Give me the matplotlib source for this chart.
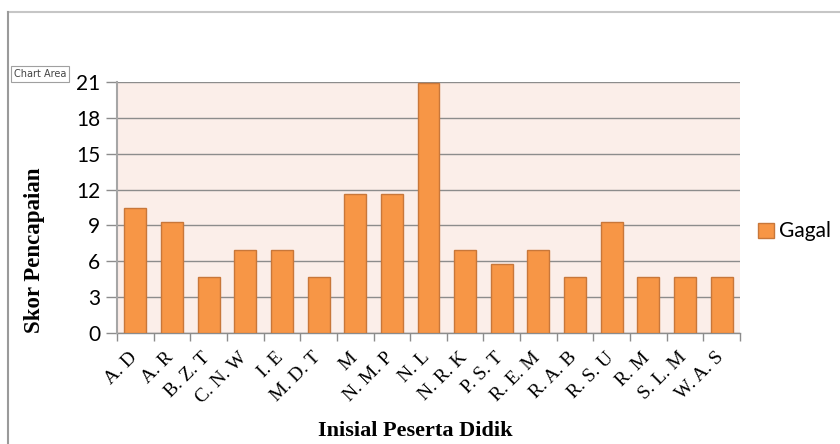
import matplotlib
matplotlib.use("Agg")
import matplotlib.pyplot as plt
import matplotlib.transforms as mtransforms
from matplotlib.patches import Rectangle
from matplotlib.lines import Line2D

# Skor pencapaian per peserta didik (kategori "Gagal")
students = ["A. D", "A. R", "B. Z. T", "C. N. W", "I. E", "M. D. T", "M",
            "N. M. P", "N. L", "N. R. K", "P. S. T", "R. E. M", "R. A. B",
            "R. S. U", "R. M", "S. L. M", "W. A. S"]
scores = [10.47, 9.30, 4.65, 6.98, 6.98, 4.65, 11.63, 11.63, 20.93, 6.98,
          5.81, 6.98, 4.65, 9.30, 4.65, 4.65, 4.65]
y_ticks = [0, 3, 6, 9, 12, 15, 18, 21]
series_name = "Gagal"

BAR = "#F79646"
BAR_EDGE = "#C8773A"
PLOT_BG = "#FBEEE9"
GRID = "#8C8C8C"

W, H = 840, 444
fig = plt.figure(figsize=(W / 100, H / 100), dpi=100)
fig.patch.set_facecolor("white")

# axes box in pixel coordinates
left, right, top, bottom = 117, 740, 82, 333
ax = fig.add_axes([left / W, 1 - bottom / H, (right - left) / W, (bottom - top) / H])
ax.set_facecolor(PLOT_BG)

x = list(range(len(students)))
ax.bar(x, scores, width=0.6, color=BAR, edgecolor=BAR_EDGE, linewidth=1.0, zorder=3)

ax.set_xlim(-0.5, len(students) - 0.5)
ax.set_ylim(0, 21)
ax.set_yticks(y_ticks)
ax.set_yticklabels([str(v) for v in y_ticks], fontfamily="Lato", fontsize=15)
ax.yaxis.grid(True, color=GRID, linewidth=1.0, zorder=1)
ax.tick_params(axis="y", length=8, width=1, color=GRID, pad=4)

# category boundary ticks on the x axis, labels at the centers
ax.set_xticks([i - 0.5 for i in range(len(students) + 1)])
ax.set_xticklabels([])
ax.set_xticks(x, minor=True)
ax.set_xticklabels(students, minor=True, rotation=45, ha="right", va="center",
                   rotation_mode="anchor", fontfamily="Liberation Serif",
                   fontsize=14)
ax.tick_params(axis="x", which="major", length=6, width=1, color=GRID)
ax.tick_params(axis="x", which="minor", length=0, pad=0)
shift = mtransforms.ScaledTranslation(-1 / 100, -22 / 100, fig.dpi_scale_trans)
for lab in ax.get_xticklabels(minor=True):
    lab.set_transform(lab.get_transform() + shift)

for side in ("top", "right"):
    ax.spines[side].set_visible(False)
ax.spines["left"].set_color("#A6A6A6")
ax.spines["left"].set_linewidth(1.5)
ax.spines["bottom"].set_color(GRID)
ax.spines["bottom"].set_linewidth(1.0)
ax.spines["left"].set_zorder(4)

# axis titles
fig.text(35 / W, 1 - 250 / H, "Skor Pencapaian", rotation=90, ha="center", va="center",
         fontfamily="Liberation Serif", fontweight="bold", fontsize=16.5)
fig.text(415 / W, 1 - 431 / H, "Inisial Peserta Didik", ha="center", va="center",
         fontfamily="Liberation Serif", fontweight="bold", fontsize=16)

# legend
fig.patches.append(Rectangle((758 / W, 1 - 238 / H), 16 / W, 15 / H, transform=fig.transFigure,
                             facecolor=BAR, edgecolor=BAR_EDGE, linewidth=1.0))
fig.text(779 / W, 1 - 231 / H, series_name, ha="left", va="center",
         fontfamily="Lato", fontsize=15)

# chart frame (top and left edges)
fig.lines.append(Line2D([8 / W, 1], [1 - 12 / H, 1 - 12 / H], transform=fig.transFigure,
                        color="#C6C6C6", linewidth=1.5))
fig.lines.append(Line2D([8 / W, 8 / W], [0, 1 - 12 / H], transform=fig.transFigure,
                        color="#9A9A9A", linewidth=1.5))

# hover tooltip
fig.text(14 / W, 1 - 74 / H, "Chart Area", ha="left", va="center",
         fontfamily="DejaVu Sans", fontsize=7, color="#444444",
         bbox=dict(boxstyle="square,pad=0.3", facecolor="white", edgecolor="#A0A0A0",
                   linewidth=0.8))

fig.savefig("out.png", dpi=100)
